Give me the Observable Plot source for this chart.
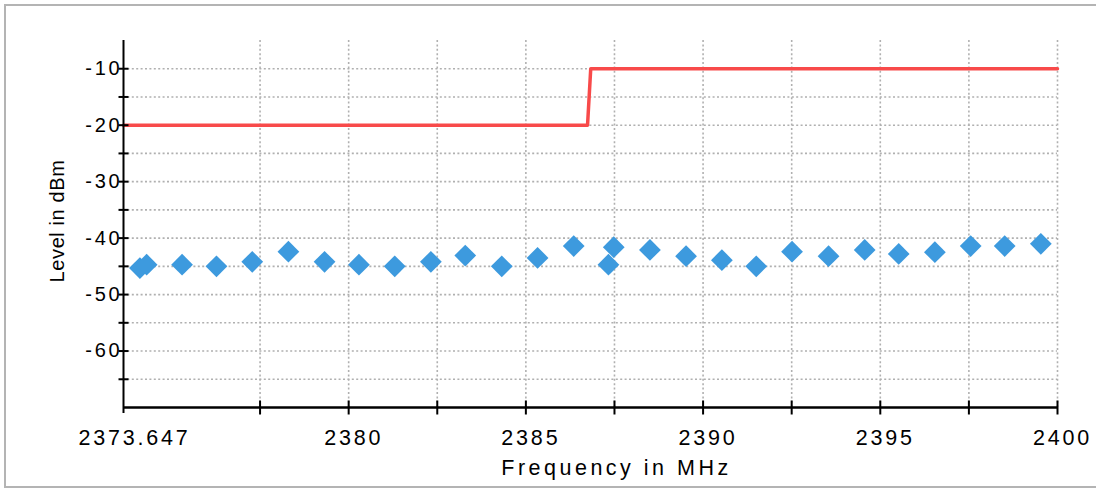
<!DOCTYPE html>
<html><head><meta charset="utf-8">
<script src="https://cdn.jsdelivr.net/npm/d3@7"></script>
<script src="https://cdn.jsdelivr.net/npm/@observablehq/plot@0.6"></script>
<style>
body{margin:0;background:#fff;}
#wrap{position:relative;width:1096px;height:489px;overflow:hidden;}
#border{position:absolute;left:4px;top:4px;width:1200px;height:484px;border:2px solid #b4b4b4;box-sizing:border-box;pointer-events:none;}
#chart{position:absolute;left:0;top:0;}
</style></head><body>
<div id="wrap"><div id="chart"></div><div id="border"></div></div>
<script>
const freqs = [2374.11, 2374.30, 2375.30, 2376.27, 2377.28, 2378.30, 2379.32, 2380.29, 2381.30, 2382.32,
  2383.29, 2384.32, 2385.33, 2386.35, 2387.33, 2387.48, 2388.50, 2389.52, 2390.53, 2391.50,
  2392.51, 2393.54, 2394.56, 2395.52, 2396.54, 2397.55, 2398.51, 2399.53];
const levels = [-45.3, -44.7, -44.7, -45.0, -44.2, -42.4, -44.2, -44.7, -45.0, -44.2,
  -43.1, -45.0, -43.5, -41.4, -44.7, -41.6, -42.1, -43.2, -43.9, -45.0,
  -42.4, -43.2, -42.1, -42.8, -42.5, -41.4, -41.4, -41.0];
const limitFreqs = [2373.647, 2386.74, 2386.83, 2400];
const limitLevels = [-20, -20, -10, -10];
const xTickLabels = [2373.647, 2380, 2385, 2390, 2395, 2400];
const xMinorTicks = [2377.5, 2382.5, 2387.5, 2392.5, 2397.5];
const yTickLabels = [-60, -50, -40, -30, -20, -10];
const yMinorTicks = [-65, -55, -45, -35, -25, -15];
const xDomain = [2373.647, 2400];
const yDomain = [-70, -5];
const xTitle = "Frequency in MHz";
const yTitle = "Level in dBm";

const points = freqs.map((f, i) => ({f, v: levels[i]}));
const limit = limitFreqs.map((f, i) => ({f, v: limitLevels[i]}));
const xAllTicks = [...xTickLabels, ...xMinorTicks];
const xGrid = xAllTicks.filter(d => d !== xDomain[0]);
const yAllTicks = [...yTickLabels, ...yMinorTicks];

const hLine = {draw(ctx, size) { const r = Math.sqrt(size / Math.PI); ctx.moveTo(-r, 0); ctx.lineTo(r, 0); }};
const vLine = {draw(ctx, size) { const r = Math.sqrt(size / Math.PI); ctx.moveTo(0, -r); ctx.lineTo(0, r); }};

const fmt = d => String(d);

const chart = Plot.plot({
  width: 1096,
  height: 489,
  marginLeft: 123,
  marginRight: 39,
  marginTop: 40,
  marginBottom: 82,
  x: {domain: xDomain, axis: null},
  y: {domain: yDomain, axis: null},
  style: {fontFamily: "'Liberation Sans', Arial, sans-serif", background: "transparent", color: "#000"},
  marks: [
    Plot.gridY(yAllTicks, {stroke: "#b0b0b0", strokeOpacity: 1, strokeWidth: 1.6, strokeDasharray: "2,2.4"}),
    Plot.gridX(xGrid, {stroke: "#b0b0b0", strokeOpacity: 1, strokeWidth: 1.6, strokeDasharray: "2,2.4"}),
    Plot.line(limit, {x: "f", y: "v", stroke: "#f84a4a", strokeWidth: 3.5}),
    Plot.dot(points, {x: "f", y: "v", symbol: "diamond2", r: 9.8, fill: "#3d9ade", stroke: "none"}),
    Plot.ruleX([xDomain[0]], {y1: yDomain[1], y2: yDomain[0], insetBottom: -6, stroke: "#000", strokeWidth: 2}),
    Plot.ruleY([yDomain[0]], {x1: xDomain[0], x2: xDomain[1], stroke: "#000", strokeWidth: 2.5}),
    Plot.dot(yAllTicks, {x: xDomain[0], y: d => d, symbol: hLine, r: 5, stroke: "#000", strokeWidth: 2, fill: "none"}),
    Plot.dot(xAllTicks.filter(d => d !== xDomain[0]), {x: d => d, y: yDomain[0], symbol: vLine, r: 7, stroke: "#000", strokeWidth: 2, fill: "none"}),
    Plot.text(yTickLabels, {x: xDomain[0], y: d => d, text: fmt, textAnchor: "end", dx: -1, fontSize: 20, fill: "#000", ariaDescription: "ytick-labels"}),
    Plot.text(xTickLabels.slice(1), {x: d => d, y: yDomain[0], text: fmt, textAnchor: "middle", dx: 5, dy: 31, fontSize: 21.5, fill: "#000", ariaDescription: "xtick-labels"}),
    Plot.text(xTickLabels.slice(0, 1), {x: d => d, y: yDomain[0], text: d => d.toFixed(3), textAnchor: "middle", dx: 11, dy: 31, fontSize: 21.5, fill: "#000", ariaDescription: "xtick-labels"}),
    Plot.text([xTitle], {frameAnchor: "bottom", text: d => d, dx: 26, dy: 67, fontSize: 21.5, fill: "#000", ariaDescription: "xlabel"}),
    Plot.text([yTitle], {frameAnchor: "left", textAnchor: "middle", text: d => d, rotate: -90, dx: -66, dy: -3, fontSize: 20, fill: "#000", ariaDescription: "ylabel"})
  ]
});
const spacing = {"ytick-labels": "2.8px", "xtick-labels": "2.8px", "xlabel": "3.5px", "ylabel": "0.6px"};
d3.select(chart).selectAll("g[aria-description]").each(function() {
  const k = this.getAttribute("aria-description");
  if (spacing[k]) d3.select(this).selectAll("text").style("letter-spacing", spacing[k]);
});
document.getElementById("chart").appendChild(chart);
</script>
</body></html>
